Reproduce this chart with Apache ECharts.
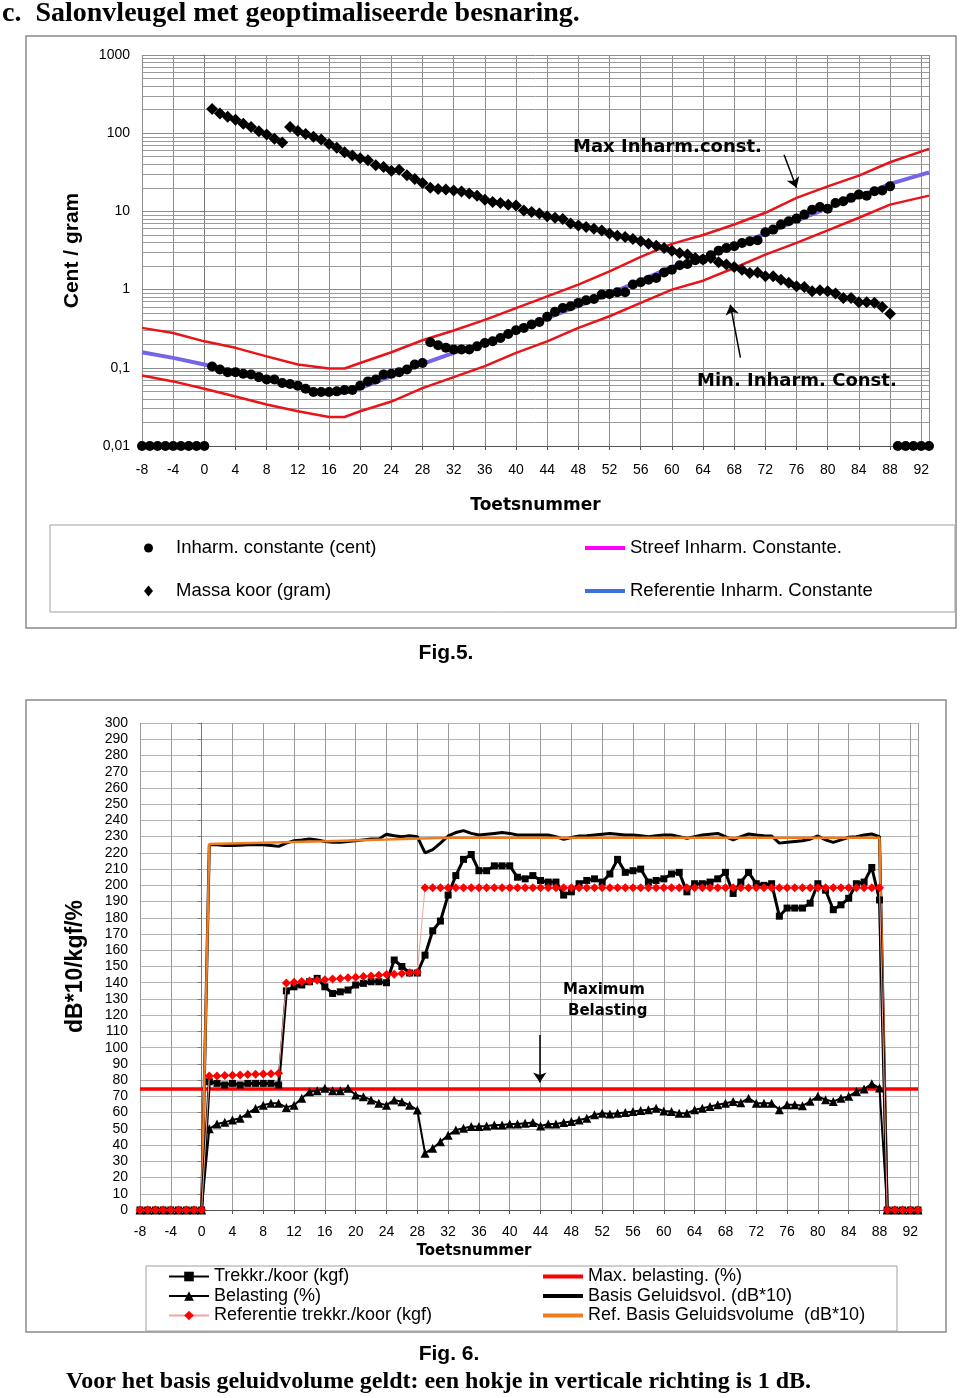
<!DOCTYPE html>
<html><head><meta charset="utf-8">
<script src="https://cdn.jsdelivr.net/npm/echarts@6/dist/echarts.min.js"></script>
<style>html,body{margin:0;padding:0;background:#fff;}#c{width:960px;height:1398px;}</style>
</head><body><div id="c"></div>
<script>
// ---------- Fig.5 data (log scale) ----------
const inharmStart = -8; // keys -8 .. 93
const inharmCent = [0.01,0.01,0.01,0.01,0.01,0.01,0.01,0.01,0.01,
 0.104,0.095,0.088,0.088,0.084,0.082,0.076,0.071,0.071,0.064,
 0.062,0.059,0.054,0.049,0.049,0.049,0.050,0.052,0.052,0.059,
 0.067,0.071,0.082,0.084,0.088,0.095,0.11,0.115,0.212,0.194,
 0.18,0.172,0.172,0.171,0.188,0.208,0.218,0.241,0.271,0.302,
 0.324,0.357,0.386,0.448,0.519,0.583,0.612,0.676,0.73,0.76,
 0.863,0.88,0.924,0.924,1.16,1.24,1.34,1.41,1.66,1.80,
 2.05,2.12,2.37,2.42,2.75,3.15,3.41,3.58,3.95,4.15,
 4.27,5.4,5.85,6.78,7.47,8.09,9.1,10.5,11.4,10.8,
 12.8,13.5,14.9,16.4,15.9,18.1,18.5,20.9,
 0.01,0.01,0.01,0.01,0.01];
const massaStart = 1; // keys 1 .. 88
const massaKoor = [204,178,162,149,132,120,106,96,85,76,
 120,107,98,90,83,73,65,57,52,48,
 45,39,37,33,34,29,26,23,20,19.4,
 19,18.5,18,16.9,15.9,14.1,13.2,12.8,12.2,11.9,
 10.3,9.8,9.4,8.7,8.3,8.0,7.0,6.6,6.3,6.0,
 5.7,5.2,4.9,4.7,4.45,4.15,3.87,3.65,3.41,3.13,
 2.94,2.82,2.54,2.42,2.54,2.23,2.09,1.95,1.80,1.63,
 1.66,1.48,1.48,1.34,1.22,1.10,1.08,0.95,0.98,0.95,
 0.89,0.78,0.78,0.69,0.69,0.68,0.60,0.49];
const boundKeys = [-8,-4,0,4,8,12,16,18,20,24,28,32,36,40,44,48,52,56,60,64,68,72,76,80,84,88,93];
const refInharm = [0.158,0.134,0.11,0.088,0.07,0.056,0.048,0.048,0.055,0.078,0.112,0.155,0.205,0.30,0.43,0.62,0.88,1.3,1.95,2.5,3.6,5.2,7.6,11,15.4,22.5,31.6];
const maxInharm = [0.324,0.279,0.218,0.18,0.14,0.11,0.098,0.098,0.115,0.158,0.225,0.30,0.41,0.58,0.82,1.16,1.71,2.62,3.84,5.0,6.8,9.6,14.9,20.9,28.7,42.5,63];
const minInharm = [0.0795,0.067,0.054,0.043,0.034,0.0278,0.0235,0.0235,0.0278,0.037,0.055,0.076,0.105,0.155,0.218,0.324,0.456,0.676,1.0,1.3,1.89,2.8,3.95,5.73,8.3,12.2,15.9];
const logTickLabels = ['0,01','0,1','1','10','100','1000'];

// ---------- Fig.6 data ----------
const keyStart = -8; // keys -8 .. 93
const trekkr = [0,0,0,0,0,0,0,0,0,
 79,78,77,78,77,78,78,78,78,77,
 135,137.5,138.6,140.6,142.7,137.5,133.4,134.4,135.5,138.6,
 139.6,140.6,140.6,140,154,150,146,146,157,172,
 178,194,206,216,219,209,209,212,212,212,
 205,204,206,203,202,202,194,196,201,203,
 204,202,207,216,208,209,210,202,203,204,
 207,208,196,201,201,202,204,208,195,202,
 208,201,200,201,181,186,186,186,189,201,
 197,185,188,192,201,202,211,191,
 0,0,0,0,0];
const belasting = [0,0,0,0,0,0,0,0,0,
 50,53,54,55.5,56.5,59.6,62.6,64.6,65.7,65.7,
 63.2,64.6,68.8,72.9,73.5,75,73.5,73.5,75,70.9,
 69.8,67.8,65.7,64.6,67.8,66.7,64.6,61.6,35,38,
 42,46,49.3,50.3,51.4,51.4,51.8,52.4,52.4,53,
 53,53.5,53.9,51.8,53,53,53.9,54.5,55.5,56.5,
 58.6,59.6,59.2,59.6,60,60.7,61.3,61.7,62.7,61,
 60.7,59.6,59.6,61.7,62.7,63.8,64.8,65.8,66.8,66,
 68.9,65.8,65.8,65.8,61.7,64.8,64.8,64.2,67,70,
 67.9,66.8,68.9,70,73,74.5,77.8,75.1,
 0,0,0,0,0];
const refTrekkr = [0,0,0,0,0,0,0,0,0,
 82.6,82.6,82.8,83,83.2,83.4,83.6,83.8,84,84.3,
 139.9,140.3,140.7,141.1,141.5,141.9,142.3,142.6,143,143.4,
 143.8,144.2,144.6,145,145.3,145.7,146.2,146.5,198.5,198.5,
 198.5,198.5,198.5,198.5,198.5,198.5,198.5,198.5,198.5,198.5,
 198.5,198.5,198.5,198.5,198.5,198.5,198.5,198.5,198.5,198.5,
 198.5,198.5,198.5,198.5,198.5,198.5,198.5,198.5,198.5,198.5,
 198.5,198.5,198.5,198.5,198.5,198.5,198.5,198.5,198.5,198.5,
 198.5,198.5,198.5,198.5,198.5,198.5,198.5,198.5,198.5,198.5,
 198.5,198.5,198.5,198.5,198.5,198.5,198.5,198.5,
 0,0,0,0,0];
const basis = [0,0,0,0,0,0,0,0,0,
 225,225,224.5,224.5,224.7,225,225,225,224.5,224,
 226,227.5,228,228.6,228,227,226.5,226.5,227,227.5,
 228,228.5,228.6,231.5,230.5,230,230.6,230,220,222,
 226,230.4,232.5,233.7,232,231,231.5,232,232.5,232,
 231,231,231,231,231,230,228.4,229.5,230.4,230.5,
 231,231.5,232,231.5,231,231,230.5,230,230.5,231,
 231,230,229,230,231,231.5,232,230,228,230,
 231.6,231,230.5,230.4,226,226.5,227,227.5,228.4,230.4,
 228,226.5,228,229.6,230,231,231.6,230,
 0,0,0,0,0];
const refBasisKeys = [-8,0,1,8,16,24,32,88,89,93];
const refBasis = [0,0,225.5,226.3,227.2,228.2,229.3,229.3,0,0];
const maxBelastingKeys = [-8,93];
const maxBelasting = [74.5,74.5];

// ---------- helpers ----------
function seq(start, arr){ return arr.map((v,i)=>[start+i, v]); }
function zip(ks, vs){ return ks.map((k,i)=>[k, vs[i]]); }
const minorLog = [];
[0.01,0.1,1,10,100].forEach(d=>{ for(let m=2;m<=9;m++) minorLog.push(+(m*d).toPrecision(3)); });

const SANS = '"Liberation Sans", Arial, sans-serif';
const WIDE = '"DejaVu Sans", "Liberation Sans", sans-serif';
const SERIF = '"Liberation Serif", "Times New Roman", serif';
const gridLineCol = '#8c8c8c';

const chart = echarts.init(document.getElementById('c'), null, {renderer:'canvas'});
const option = {
  animation: false,
  backgroundColor: '#fff',
  textStyle: {fontFamily: SANS},
  grid: [
    {left:142, top:55, width:787, height:391},
    {left:140, top:723, width:778, height:487}
  ],
  xAxis: [
    {type:'value', gridIndex:0, min:-8, max:93, interval:4,
     axisLine:{show:true, onZero:false, lineStyle:{color:'#555', width:1}},
     axisTick:{show:true, length:4, lineStyle:{color:'#555'}},
     axisLabel:{fontSize:14, color:'#000', fontFamily:SANS, margin:17,
       formatter: v => (v % 4 === 0 && v <= 92) ? String(v) : ''},
     splitLine:{show:true, lineStyle:{color:gridLineCol, width:1}},
     name:'Toetsnummer', nameLocation:'middle', nameGap:51,
     nameTextStyle:{fontSize:17, fontWeight:'bold', color:'#000', fontFamily:WIDE}},
    {type:'value', gridIndex:1, min:-8, max:93, interval:4,
     axisLine:{show:true, onZero:false, lineStyle:{color:'#555', width:1}},
     axisTick:{show:true, length:4, lineStyle:{color:'#555'}},
     axisLabel:{fontSize:14, color:'#000', fontFamily:SANS, margin:15,
       formatter: v => (v % 4 === 0 && v <= 92) ? String(v) : ''},
     splitLine:{show:true, lineStyle:{color:'#9a9a9a', width:1}},
     name:'Toetsnummer', nameLocation:'middle', nameGap:34,
     nameTextStyle:{fontSize:15, fontWeight:'bold', color:'#000', fontFamily:WIDE, padding:[0,110,0,0]}}
  ],
  yAxis: [
    {type:'log', logBase:10, gridIndex:0, min:0.01, max:1000,
     axisLine:{show:true, lineStyle:{color:'#777'}},
     axisTick:{show:true, length:4, lineStyle:{color:'#777'}},
     axisLabel:{fontSize:14, color:'#000', fontFamily:SANS, margin:12,
       formatter: v => { const e = Math.round(Math.log10(v)); return logTickLabels[e + 2] || ''; }},
     splitLine:{show:true, lineStyle:{color:gridLineCol, width:1}},
     name:'Cent / gram', nameLocation:'middle', nameGap:59, nameRotate:90,
     nameTextStyle:{fontSize:21, fontWeight:'bold', color:'#000', fontFamily:SANS}},
    {type:'value', gridIndex:1, min:0, max:300, interval:10,
     axisLine:{show:true, lineStyle:{color:'#777'}},
     axisTick:{show:true, length:4, lineStyle:{color:'#777'}},
     axisLabel:{fontSize:14, color:'#000', fontFamily:SANS, margin:12, lineHeight:14},
     splitLine:{show:true, lineStyle:{color:'#b5b5b5', width:1}},
     name:'dB*10/kgf/%', nameLocation:'middle', nameGap:53, nameRotate:90,
     nameTextStyle:{fontSize:23, fontWeight:'bold', color:'#000', fontFamily:SANS}}
  ],
  legend: [
    {left:144, top:538, orient:'vertical', itemGap:23, padding:0, selectedMode:false,
     itemWidth:9, itemHeight:11,
     textStyle:{fontSize:18.5, color:'#000', fontFamily:SANS, lineHeight:20, rich:{s:{width:18}}},
     formatter: n => '{s| }' + n,
     data:[{name:'Inharm. constante (cent)', icon:'circle'}, {name:'Massa koor (gram)', icon:'diamond'}]},
    {left:585, top:538, orient:'vertical', itemGap:23, padding:0, selectedMode:false,
     itemWidth:40, itemHeight:4,
     textStyle:{fontSize:18.5, color:'#000', fontFamily:SANS, lineHeight:20},
     data:[{name:'Streef Inharm. Constante.', icon:'rect', itemStyle:{color:'#ff00ff'}},
           {name:'Referentie Inharm. Constante', icon:'rect', itemStyle:{color:'#3f6fdc'}}]},
    {left:168, top:1267, orient:'vertical', itemGap:0.5, padding:0, selectedMode:false,
     itemWidth:40, itemHeight:12,
     textStyle:{fontSize:18, color:'#000', fontFamily:SANS, lineHeight:19},
     data:['Trekkr./koor (kgf)','Belasting (%)','Referentie trekkr./koor (kgf)']},
    {left:543, top:1267, orient:'vertical', itemGap:0.5, padding:0, selectedMode:false,
     itemWidth:40, itemHeight:4,
     textStyle:{fontSize:18, color:'#000', fontFamily:SANS, lineHeight:19},
     data:[{name:'Max. belasting. (%)', icon:'rect', itemStyle:{color:'#ff0000'}},
           {name:'Basis Geluidsvol. (dB*10)', icon:'rect', itemStyle:{color:'#000'}},
           {name:'Ref. Basis Geluidsvolume  (dB*10)', icon:'rect', itemStyle:{color:'#f07c1e'}}]}
  ],
  graphic: [
    {type:'rect', silent:true, z:-10, shape:{x:26,y:36,width:930,height:592}, style:{fill:'none', stroke:'#8a8a8a', lineWidth:1.5}},
    {type:'rect', silent:true, z:-10, shape:{x:50,y:525,width:905,height:87}, style:{fill:'none', stroke:'#a0a0a0', lineWidth:1}},
    {type:'rect', silent:true, z:-10, shape:{x:26,y:700,width:920,height:632}, style:{fill:'none', stroke:'#8a8a8a', lineWidth:1.5}},
    {type:'rect', silent:true, z:-10, shape:{x:146,y:1266,width:751,height:65}, style:{fill:'none', stroke:'#a0a0a0', lineWidth:1}},
    {type:'text', silent:true, z:100, x:2, y:14, style:{text:'c.  Salonvleugel met geoptimaliseerde besnaring.', font:'bold 28px ' + SERIF, fill:'#000', textVerticalAlign:'middle'}},
    {type:'text', silent:true, z:100, x:446, y:653, style:{text:'Fig.5.', font:'bold 21px ' + SANS, fill:'#000', textAlign:'center', textVerticalAlign:'middle'}},
    {type:'text', silent:true, z:100, x:449, y:1354, style:{text:'Fig. 6.', font:'bold 21px ' + SANS, fill:'#000', textAlign:'center', textVerticalAlign:'middle'}},
    {type:'text', silent:true, z:100, x:66, y:1382, style:{text:'Voor het basis geluidvolume geldt: een hokje in verticale richting is 1 dB.', font:'bold 24px ' + SERIF, fill:'#000', textVerticalAlign:'middle'}},
    {type:'text', silent:true, z:100, x:573, y:147, style:{text:'Max Inharm.const.', font:'bold 18px ' + WIDE, fill:'#000', textVerticalAlign:'middle'}},
    {type:'text', silent:true, z:100, x:697, y:381, style:{text:'Min. Inharm. Const.', font:'bold 18px ' + WIDE, fill:'#000', textVerticalAlign:'middle'}},
    {type:'text', silent:true, z:100, x:563, y:990, style:{text:'Maximum', font:'bold 15px ' + WIDE, fill:'#000', textVerticalAlign:'middle'}},
    {type:'text', silent:true, z:100, x:568, y:1011, style:{text:'Belasting', font:'bold 15px ' + WIDE, fill:'#000', textVerticalAlign:'middle'}}
  ],
  series: [
    // ----- Fig.5 -----
    {name:'Streef Inharm. Constante.', type:'line', xAxisIndex:0, yAxisIndex:0, data:[], symbol:'none',
     lineStyle:{color:'#ff00ff', width:4}, itemStyle:{color:'#ff00ff'}},
    {name:'Referentie Inharm. Constante', type:'line', xAxisIndex:0, yAxisIndex:0, data:zip(boundKeys, refInharm),
     symbol:'none', clip:false, lineStyle:{color:'#7466e6', width:4}, itemStyle:{color:'#7466e6'}, z:2,
     markLine:{silent:true, symbol:'none', z:1, label:{show:false}, animation:false,
       lineStyle:{color:'#9a9a9a', width:1, type:'solid'},
       data: minorLog.map(v=>({yAxis:v}))}},
    {name:'Max Inharm.const.', type:'line', xAxisIndex:0, yAxisIndex:0, data:zip(boundKeys, maxInharm),
     symbol:'none', clip:false, lineStyle:{color:'#e8141a', width:2.5}, z:3,
     markLine:{silent:true, symbol:['none','arrow'], symbolSize:10, z:10, label:{show:false}, animation:false,
       lineStyle:{color:'#000', width:1.5, type:'solid'}, itemStyle:{color:'#000'},
       data:[[{coord:[74.4,53]},{coord:[76.0,20.1]}],[{coord:[68.8,0.135]},{coord:[67.5,0.64]}]]}},
    {name:'Min. Inharm. Const.', type:'line', xAxisIndex:0, yAxisIndex:0, data:zip(boundKeys, minInharm),
     symbol:'none', clip:false, lineStyle:{color:'#e8141a', width:2.5}, z:3},
    {name:'Massa koor (gram)', type:'scatter', xAxisIndex:0, yAxisIndex:0, data:seq(massaStart, massaKoor),
     symbol:'diamond', symbolSize:12, clip:false, itemStyle:{color:'#000', opacity:1}, z:4},
    {name:'Inharm. constante (cent)', type:'scatter', xAxisIndex:0, yAxisIndex:0, data:seq(inharmStart, inharmCent),
     symbol:'circle', symbolSize:10, clip:false, itemStyle:{color:'#000', opacity:1}, z:5},
    // ----- Fig.6 -----
    {name:'Max. belasting. (%)', type:'line', xAxisIndex:1, yAxisIndex:1, data:zip(maxBelastingKeys, maxBelasting),
     symbol:'none', clip:false, lineStyle:{color:'#ff0000', width:3.5}, itemStyle:{color:'#ff0000'}, z:2,
     markLine:{silent:true, symbol:['none','arrow'], symbolSize:10, z:10, label:{show:false}, animation:false,
       lineStyle:{color:'#000', width:1.5, type:'solid'}, itemStyle:{color:'#000'},
       data:[[{coord:[43.9,107.8]},{coord:[43.9,78.5]}]]}},
    {name:'Basis Geluidsvol. (dB*10)', type:'line', xAxisIndex:1, yAxisIndex:1, data:seq(keyStart, basis),
     symbol:'none', clip:false, lineStyle:{color:'#000', width:3}, itemStyle:{color:'#000'}, z:3},
    {name:'Ref. Basis Geluidsvolume  (dB*10)', type:'line', xAxisIndex:1, yAxisIndex:1, data:zip(refBasisKeys, refBasis),
     symbol:'none', clip:false, lineStyle:{color:'#f07c1e', width:2.5}, itemStyle:{color:'#f07c1e'}, z:4},
    {name:'Belasting (%)', type:'line', xAxisIndex:1, yAxisIndex:1, data:seq(keyStart, belasting),
     symbol:'triangle', symbolSize:9, showSymbol:true, clip:false, lineStyle:{color:'#000', width:2}, itemStyle:{color:'#000'}, z:5},
    {name:'Trekkr./koor (kgf)', type:'line', xAxisIndex:1, yAxisIndex:1, data:seq(keyStart, trekkr),
     symbol:'rect', symbolSize:7, showSymbol:true, clip:false, lineStyle:{color:'#000', width:3}, itemStyle:{color:'#000'}, z:6},
    {name:'Referentie trekkr./koor (kgf)', type:'line', xAxisIndex:1, yAxisIndex:1, data:seq(keyStart, refTrekkr),
     symbol:'diamond', symbolSize:9, showSymbol:true, clip:false, lineStyle:{color:'#f3a3a3', width:1}, itemStyle:{color:'#ff0000'}, z:7}
  ]
};
chart.setOption(option);
</script></body></html>
